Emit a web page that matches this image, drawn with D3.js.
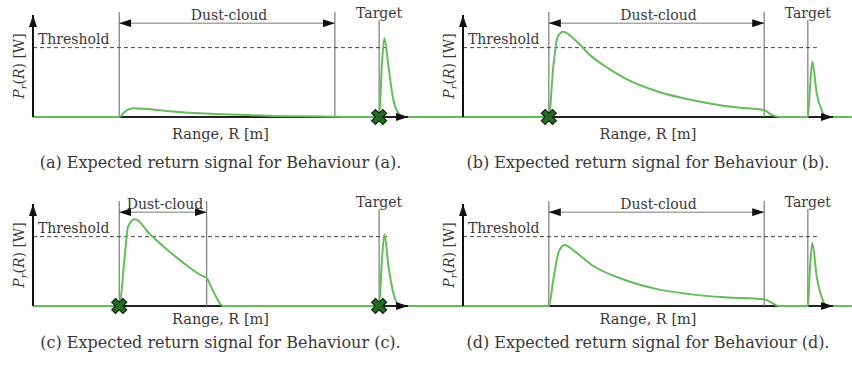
<!doctype html>
<html lang="en">
<head>
  <meta charset="utf-8">
  <title>Expected return signal</title>
  <style>
    body { margin: 0; background: #fff; }
    text { font-family: 'DejaVu Serif', serif; fill: #383838; }
  </style>
</head>
<body>
  <script src="https://cdn.jsdelivr.net/npm/d3@7"></script>
  <script>
    // Signal traces, [range, power] in arbitrary units (axis runs 0..100 both ways)
    const signalA = [[0, 0], [23.0, 0], [24.5, 5.2], [26.7, 8.5], [35.7, 5.9], [44.5, 3.6], [62.3, 1.3],
                     [80.5, 0.3], [84, 0], [92.3, 0], [93.0, 49.3], [93.7, 77.1], [94.8, 49.3],
                     [96.1, 16.7], [97.9, 2], [99.5, 0], [106, 0]];
    const signalB = [[-10.3, 0], [23.2, 0], [24.4, 49.3], [25.6, 78.8], [27.1, 83.7], [30.3, 75.5],
                     [34.8, 59.2], [39.3, 47.7], [43.8, 37.9], [52.8, 24.8], [61.8, 16.7], [70.8, 10.8],
                     [79.8, 7.5], [81.4, 6.9], [83.4, 2], [85.7, 0], [93.2, 0], [93.8, 30],
                     [94.4, 54.2], [95.6, 23.2], [96.9, 6.9], [98.3, 0], [105.1, 0]];
    const signalC = [[0, 0], [23.0, 0], [24.3, 42.3], [25.4, 78.5], [27.2, 85.1], [31.2, 70.3],
                     [35.7, 55.4], [40.1, 42.3], [44.5, 30.7], [46.3, 27.4], [48.1, 14.2], [50.7, 0],
                     [92.3, 0], [93.0, 42.3], [93.7, 70.3], [94.8, 38.9], [96.1, 12.6], [97.9, 0],
                     [106, 0]];
    const signalD = [[-10.3, 0], [23.2, 0], [24.4, 25.5], [25.9, 53.3], [27.4, 59.8], [30.3, 53.3],
                     [34.8, 40.2], [43.8, 25.5], [52.8, 16.3], [61.8, 11.4], [70.8, 8.5], [81.4, 6.5],
                     [83.4, 3.3], [85.4, 0], [93.2, 0], [93.8, 38.5], [94.4, 62], [95.6, 28.7],
                     [96.9, 9.2], [98.3, 0], [105.1, 0]];

    const panelLetters = ['a', 'b', 'c', 'd'];
    const signals = [signalA, signalB, signalC, signalD];
    const dustStart = [23.0, 23.2, 23.0, 23.2];
    const dustEnd = [80.5, 81.4, 46.3, 81.4];
    const targetAt = [92.3, 93.2, 92.3, 93.2];
    const threshold = 68;
    const crossMarks = [[92.3], [23.2], [23.0, 92.3], []];

    // Layout of the four sub-figures
    const W = 852, H = 366;
    const axisLeft = [33, 463, 33, 463];
    const axisRight = [408, 833, 408, 833];
    const axisBase = [117, 117, 306, 306];
    const rangeGap = [22, 22, 18, 18];
    const captionGap = [51, 51, 42, 42];
    const plotH = 102;

    const green = '#62bf57';
    const lineGray = '#7a7a7a';

    const svg = d3.select('body').append('svg')
      .attr('width', W)
      .attr('height', H);

    const defs = svg.append('defs');
    defs.append('marker')
      .attr('id', 'head')
      .attr('viewBox', '0 0 12 8')
      .attr('refX', 12).attr('refY', 4)
      .attr('markerWidth', 12).attr('markerHeight', 8)
      .attr('markerUnits', 'userSpaceOnUse')
      .attr('orient', 'auto-start-reverse')
      .append('path')
      .attr('d', 'M0,0L12,4L0,8Z')
      .attr('fill', '#111');

    panelLetters.forEach((letter, i) => {
      const g = svg.append('g')
        .attr('transform', `translate(${axisLeft[i]},${axisBase[i] - plotH})`);
      const w = axisRight[i] - axisLeft[i];
      const x = d3.scaleLinear().domain([0, 100]).range([0, w]);
      const y = d3.scaleLinear().domain([0, 100]).range([plotH, 0]);

      // x axis (drawn under the signal)
      g.append('line')
        .attr('x1', x(0)).attr('x2', x(100) - 4)
        .attr('y1', y(0)).attr('y2', y(0))
        .attr('stroke', '#222').attr('stroke-width', 2);

      // dust-cloud and target boundaries
      [dustStart[i], dustEnd[i]].forEach((d) => {
        g.append('line')
          .attr('x1', x(d)).attr('x2', x(d))
          .attr('y1', y(0)).attr('y2', y(103))
          .attr('stroke', lineGray).attr('stroke-width', 1.2);
      });
      g.append('line')
        .attr('x1', x(targetAt[i])).attr('x2', x(targetAt[i]))
        .attr('y1', y(0)).attr('y2', y(95))
        .attr('stroke', lineGray).attr('stroke-width', 1.2);

      // dust-cloud extent arrow
      g.append('line')
        .attr('x1', x(dustStart[i])).attr('x2', x(dustEnd[i]))
        .attr('y1', y(92)).attr('y2', y(92))
        .attr('stroke', lineGray).attr('stroke-width', 1)
        .attr('marker-start', 'url(#head)')
        .attr('marker-end', 'url(#head)');
      g.append('text')
        .attr('x', (x(dustStart[i]) + x(dustEnd[i])) / 2 + 2)
        .attr('y', y(95))
        .attr('text-anchor', 'middle')
        .attr('font-size', 14)
        .text('Dust-cloud');
      g.append('text')
        .attr('x', x(targetAt[i]))
        .attr('y', y(97))
        .attr('text-anchor', 'middle')
        .attr('font-size', 14)
        .text('Target');

      // threshold
      g.append('line')
        .attr('x1', x(0)).attr('x2', x(targetAt[i]) + 9)
        .attr('y1', y(threshold)).attr('y2', y(threshold))
        .attr('stroke', '#444').attr('stroke-width', 1)
        .attr('stroke-dasharray', '4,3');
      g.append('text')
        .attr('x', 5)
        .attr('y', y(threshold) - 4)
        .attr('font-size', 14)
        .text('Threshold');

      // signal
      const line = d3.line()
        .x((d) => x(d[0]))
        .y((d) => y(d[1]))
        .curve(d3.curveMonotoneX);
      g.append('path')
        .datum(signals[i])
        .attr('d', line)
        .attr('fill', 'none')
        .attr('stroke', green)
        .attr('stroke-width', 2);

      // arrowheads of the axes on top
      g.append('line')
        .attr('x1', x(100) - 12).attr('x2', x(100))
        .attr('y1', y(0)).attr('y2', y(0))
        .attr('stroke', '#222').attr('stroke-width', 2)
        .attr('marker-end', 'url(#head)');
      g.append('line')
        .attr('x1', x(0)).attr('x2', x(0))
        .attr('y1', y(0)).attr('y2', y(100))
        .attr('stroke', '#111').attr('stroke-width', 2)
        .attr('marker-end', 'url(#head)');

      // cross markers
      g.selectAll('.cross')
        .data(crossMarks[i])
        .enter()
        .append('path')
        .attr('class', 'cross')
        .attr('d', d3.symbol().type(d3.symbolCross).size(140))
        .attr('transform', (d) => `translate(${x(d)},${y(0)}) rotate(45)`)
        .attr('fill', '#256b25')
        .attr('stroke', '#0d2a0d')
        .attr('stroke-width', 1.2);

      // axis labels
      const yl = g.append('text')
        .attr('transform', `translate(-9,${plotH / 2}) rotate(-90)`)
        .attr('text-anchor', 'middle')
        .attr('font-size', 14);
      yl.append('tspan').attr('font-style', 'italic').text('P');
      yl.append('tspan').attr('font-style', 'italic').attr('font-size', 10).attr('dy', 3).text('r');
      yl.append('tspan').attr('dy', -3).text('(');
      yl.append('tspan').attr('font-style', 'italic').text('R');
      yl.append('tspan').text(') [W]');

      g.append('text')
        .attr('x', w / 2)
        .attr('y', plotH + rangeGap[i])
        .attr('text-anchor', 'middle')
        .attr('font-size', 14.5)
        .text('Range, R [m]');

      g.append('text')
        .attr('x', w / 2)
        .attr('y', plotH + captionGap[i])
        .attr('text-anchor', 'middle')
        .attr('font-size', 16)
        .text(`(${letter}) Expected return signal for Behaviour (${letter}).`);
    });
  </script>
</body>
</html>
